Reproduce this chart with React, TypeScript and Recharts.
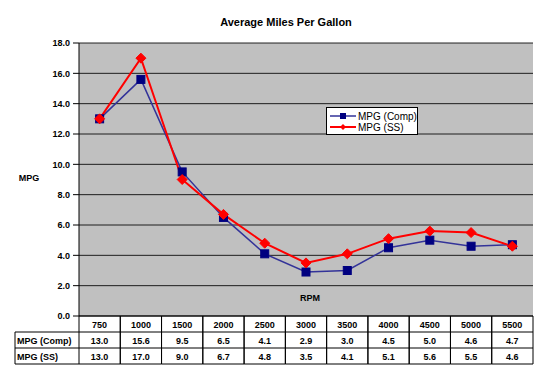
import React from 'react';
import { ComposedChart, Line, XAxis, YAxis, CartesianGrid, Legend, Customized } from 'recharts';

const categories = ['750', '1000', '1500', '2000', '2500', '3000', '3500', '4000', '4500', '5000', '5500'];
const compValues = [13.0, 15.6, 9.5, 6.5, 4.1, 2.9, 3.0, 4.5, 5.0, 4.6, 4.7];
const ssValues = [13.0, 17.0, 9.0, 6.7, 4.8, 3.5, 4.1, 5.1, 5.6, 5.5, 4.6];
const yTicks = [0, 2, 4, 6, 8, 10, 12, 14, 16, 18];
const seriesNames = ['MPG (Comp)', 'MPG (SS)'];
const seriesValues = [compValues, ssValues];
const titleText = 'Average Miles Per Gallon';
const yLabelText = 'MPG';
const xLabelText = 'RPM';

const data = categories.map((c, i) => ({ rpm: c, comp: compValues[i], ss: ssValues[i] }));

const W = 550;
const H = 376;
const Y_AXIS_W = 79;
const RIGHT = 17;
const TOP = 43;
const X_AXIS_H = 60;
const PLOT_W = W - Y_AXIS_W - RIGHT;
const ROW_H = 16;
const HEADER_LEFT = 15;
const FONT = 'Arial, "Liberation Sans", sans-serif';
const COMP_COLOR = '#000080';
const COMP_LINE = '#333399';
const SS_COLOR = '#FF0000';

const TableTick = (props: any) => {
  const { x, y, payload, index } = props;
  const bw = PLOT_W / categories.length;
  const x0 = x - bw / 2;
  const x1 = x + bw / 2;
  const top = y;
  const lines: React.ReactNode[] = [];
  const texts: React.ReactNode[] = [];
  lines.push(<line key="vl" x1={x0} y1={top} x2={x0} y2={top + ROW_H * 3} stroke="#000" strokeWidth={1} />);
  lines.push(<line key="vr" x1={x1} y1={top} x2={x1} y2={top + ROW_H * 3} stroke="#000" strokeWidth={1} />);
  for (let r = 1; r <= 3; r++) {
    lines.push(<line key={'h' + r} x1={x0} y1={top + ROW_H * r} x2={x1} y2={top + ROW_H * r} stroke="#000" strokeWidth={1} />);
  }
  texts.push(
    <text key="c" x={x} y={top + ROW_H / 2 + 3.5} textAnchor="middle" fontSize={9} fontWeight="bold" fontFamily={FONT} fill="#000">
      {payload.value}
    </text>
  );
  seriesValues.forEach((vals, s) => {
    texts.push(
      <text key={'v' + s} x={x} y={top + ROW_H * (s + 1) + ROW_H / 2 + 3.5} textAnchor="middle" fontSize={9} fontWeight="bold" fontFamily={FONT} fill="#000">
        {vals[index].toFixed(1)}
      </text>
    );
  });
  if (index === 0) {
    lines.push(<line key="hl" x1={HEADER_LEFT} y1={top + ROW_H} x2={HEADER_LEFT} y2={top + ROW_H * 3} stroke="#000" strokeWidth={1} />);
    for (let r = 1; r <= 3; r++) {
      lines.push(<line key={'hh' + r} x1={HEADER_LEFT} y1={top + ROW_H * r} x2={x0} y2={top + ROW_H * r} stroke="#000" strokeWidth={1} />);
    }
    seriesNames.forEach((n, s) => {
      texts.push(
        <text key={'n' + s} x={HEADER_LEFT + 2} y={top + ROW_H * (s + 1) + ROW_H / 2 + 3.5} textAnchor="start" fontSize={9} fontWeight="bold" fontFamily={FONT} fill="#000">
          {n}
        </text>
      );
    });
  }
  return (
    <g>
      {lines}
      {texts}
    </g>
  );
};

const SquareDot = (props: any) => {
  const { cx, cy } = props;
  if (cx == null || cy == null) return null;
  return <rect x={cx - 4} y={cy - 4} width={8} height={8} fill={COMP_COLOR} stroke={COMP_COLOR} />;
};

const DiamondDot = (props: any) => {
  const { cx, cy } = props;
  if (cx == null || cy == null) return null;
  const r = 5;
  return <polygon points={`${cx},${cy - r} ${cx + r},${cy} ${cx},${cy + r} ${cx - r},${cy}`} fill={SS_COLOR} stroke={SS_COLOR} />;
};

const LegendContent = () => (
  <div style={{ width: 92, height: 28, background: '#fff', border: '1px solid #000', boxSizing: 'border-box', fontFamily: FONT, fontSize: 10, color: '#000' }}>
    <svg width={90} height={26} style={{ display: 'block' }}>
      <line x1={3} y1={8} x2={29} y2={8} stroke={COMP_LINE} strokeWidth={1.5} />
      <rect x={13} y={5} width={6} height={6} fill={COMP_COLOR} />
      <text x={31} y={11.5} fontSize={10} fontFamily={FONT} fill="#000">{seriesNames[0]}</text>
      <line x1={3} y1={19} x2={29} y2={19} stroke={SS_COLOR} strokeWidth={2} />
      <polygon points="16,16 19,19 16,22 13,19" fill={SS_COLOR} />
      <text x={31} y={22.5} fontSize={10} fontFamily={FONT} fill="#000">{seriesNames[1]}</text>
    </svg>
  </div>
);

const Labels = () => (
  <g>
    <text x={286} y={26} textAnchor="middle" fontSize={11} fontWeight="bold" fontFamily={FONT} fill="#000">{titleText}</text>
    <text x={29} y={181} textAnchor="middle" fontSize={9} fontWeight="bold" fontFamily={FONT} fill="#000">{yLabelText}</text>
    <text x={310} y={301} textAnchor="middle" fontSize={9} fontWeight="bold" fontFamily={FONT} fill="#000">{xLabelText}</text>
  </g>
);

export default function App() {
  return (
    <div style={{ position: 'absolute', left: 0, top: 0, width: W, height: H, background: '#fff' }}>
      <ComposedChart width={W} height={H} data={data} margin={{ top: TOP, right: RIGHT, left: 0, bottom: 0 }}>
        <CartesianGrid vertical={false} horizontal={true} fill="#C0C0C0" stroke="#000" strokeOpacity={0.85} />
        <XAxis
          dataKey="rpm"
          scale="band"
          height={X_AXIS_H}
          tickSize={0}
          tickMargin={0}
          tickLine={false}
          axisLine={{ stroke: '#000' }}
          tick={<TableTick />}
          interval={0}
        />
        <YAxis
          domain={[0, 18]}
          ticks={yTicks}
          width={Y_AXIS_W}
          tickSize={6}
          tickMargin={3}
          axisLine={{ stroke: '#000' }}
          tickLine={{ stroke: '#000' }}
          tick={{ fontSize: 9, fontWeight: 'bold', fontFamily: FONT, fill: '#000' }}
          tickFormatter={(v: number) => v.toFixed(1)}
        />
        <YAxis yAxisId="r" orientation="right" width={0} tick={false} tickLine={false} axisLine={{ stroke: '#808080', strokeWidth: 2 }} />
        <Legend
          layout="horizontal"
          verticalAlign="middle"
          align="center"
          content={<LegendContent />}
          wrapperStyle={{ position: 'absolute', left: 326, top: 107, width: 92, height: 28 }}
        />
        <Line dataKey="comp" name={seriesNames[0]} stroke={COMP_LINE} strokeWidth={1.5} dot={<SquareDot />} activeDot={false} isAnimationActive={false} />
        <Line dataKey="ss" name={seriesNames[1]} stroke={SS_COLOR} strokeWidth={2} dot={<DiamondDot />} activeDot={false} isAnimationActive={false} />
        <Customized component={<Labels />} />
      </ComposedChart>
    </div>
  );
}
